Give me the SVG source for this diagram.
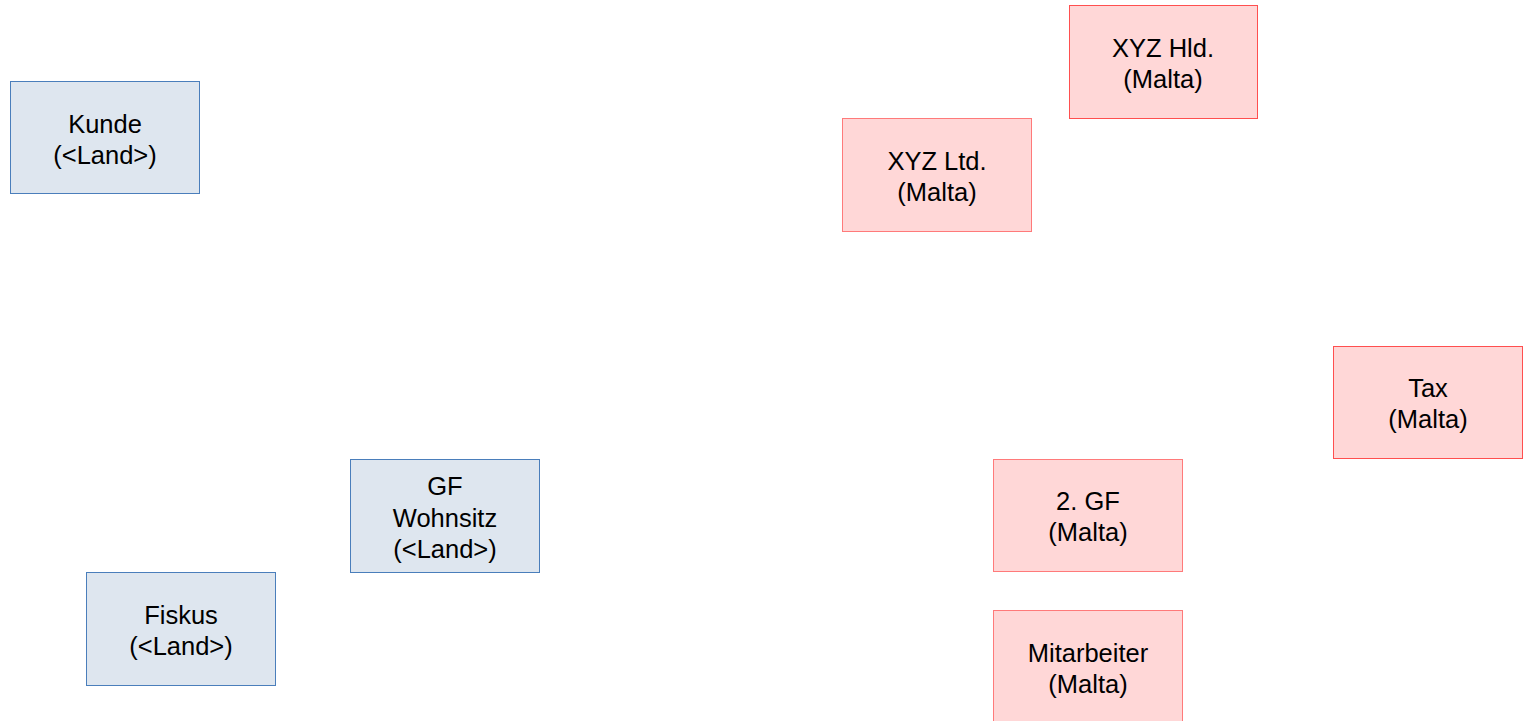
<svg xmlns="http://www.w3.org/2000/svg" width="1526" height="721" viewBox="0 0 1526 721">
<style>
.b{fill:#dee6ef;stroke:#4a7ebb;stroke-width:1}
.r{fill:#ffd7d7;stroke:#ff4f4f;stroke-width:1}
.r2{fill:#ffd7d7;stroke:#ff7a7a;stroke-width:1}
text{font-family:"Liberation Sans",Arial,sans-serif;font-size:25.5px;fill:#000;text-anchor:middle}
</style>
<rect width="1526" height="721" fill="#fff"/>
<g id="kunde"><rect class="b" x="10.5" y="81.5" width="189" height="112"/><text x="105" y="133">Kunde</text><text x="105" y="164">(&lt;Land&gt;)</text></g>
<g id="xyz-hld"><rect class="r" x="1069.5" y="5.5" width="188" height="113"/><text x="1163" y="57">XYZ Hld.</text><text x="1163" y="88">(Malta)</text></g>
<g id="xyz-ltd"><rect class="r2" x="842.5" y="118.5" width="189" height="113"/><text x="937" y="170">XYZ Ltd.</text><text x="937" y="201">(Malta)</text></g>
<g id="tax"><rect class="r" x="1333.5" y="346.5" width="189" height="112"/><text x="1428" y="397">Tax</text><text x="1428" y="428">(Malta)</text></g>
<g id="gf-wohnsitz"><rect class="b" x="350.5" y="459.5" width="189" height="113"/><text x="445" y="495">GF</text><text x="445" y="527">Wohnsitz</text><text x="445" y="558">(&lt;Land&gt;)</text></g>
<g id="gf2"><rect class="r2" x="993.5" y="459.5" width="189" height="112"/><text x="1088" y="510">2. GF</text><text x="1088" y="541">(Malta)</text></g>
<g id="fiskus"><rect class="b" x="86.5" y="572.5" width="189" height="113"/><text x="181" y="624">Fiskus</text><text x="181" y="655">(&lt;Land&gt;)</text></g>
<g id="mitarbeiter"><rect class="r2" x="993.5" y="610.5" width="189" height="113"/><text x="1088" y="662">Mitarbeiter</text><text x="1088" y="693">(Malta)</text></g>
<g id="connectors"></g>
</svg>
